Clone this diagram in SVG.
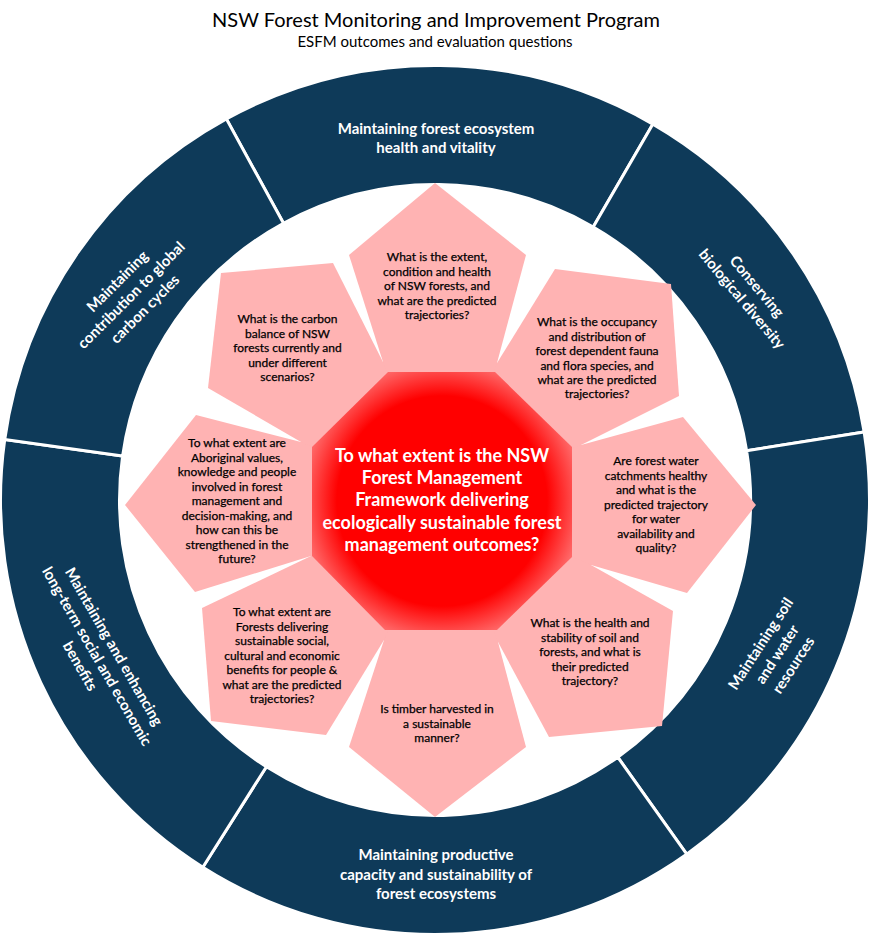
<svg xmlns="http://www.w3.org/2000/svg" width="870" height="936" viewBox="0 0 870 936">
<style>
.seg{fill:#0e3a59;stroke:#ffffff;stroke-width:3;stroke-linejoin:miter}
.sl{font-family:Lato,"Liberation Sans",sans-serif;font-weight:700;font-size:15px;fill:#ffffff;text-anchor:middle}
.pent{fill:#ffb3b3}
.q{font-family:Lato,"Liberation Sans",sans-serif;font-size:12px;fill:#000000;stroke:#000000;stroke-width:0.25;text-anchor:middle}
.ctr{font-family:Lato,"Liberation Sans",sans-serif;font-weight:700;font-size:18px;fill:#ffffff;text-anchor:middle}
.ttl{font-family:Lato,"Liberation Sans",sans-serif;fill:#000000;text-anchor:middle}
</style>
<defs>
<radialGradient id="octGrad" gradientUnits="userSpaceOnUse" cx="442" cy="501" r="146">
<stop offset="0" stop-color="#ff0000"/>
<stop offset="0.72" stop-color="#ff0000"/>
<stop offset="1" stop-color="#ff7a7a"/>
</radialGradient>
</defs>
<rect width="870" height="936" fill="#ffffff"/>
<g id="title">
<text class="ttl" x="436" y="27" font-size="20">NSW Forest Monitoring and Improvement Program</text>
<text class="ttl" x="435" y="47" font-size="15">ESFM outcomes and evaluation questions</text>
</g>
<g id="ring">
<g id="seg-health">
<path class="seg" d="M226.34,118.88 A434.5,434.5 0 0 1 652.91,124.09 L593.23,227.05 A315.5,315.5 0 0 0 283.49,223.26 Z"/>
<text class="sl" x="436" y="134">Maintaining forest ecosystem</text>
<text class="sl" x="436" y="153">health and vitality</text>
</g>
<g id="seg-biodiversity">
<path class="seg" d="M652.91,124.09 A434.5,434.5 0 0 1 864.15,432.03 L746.62,450.65 A315.5,315.5 0 0 0 593.23,227.05 Z"/>
<g transform="translate(748.5,293.5) rotate(50)">
<text class="sl" x="0" y="-5.75">Conserving</text>
<text class="sl" x="0" y="13.75">biological diversity</text>
</g>
</g>
<g id="seg-soil">
<path class="seg" d="M864.15,432.03 A434.5,434.5 0 0 1 686.70,854.17 L617.76,757.17 A315.5,315.5 0 0 0 746.62,450.65 Z"/>
<g transform="translate(778,655) rotate(-57)">
<text class="sl" x="0" y="-15.5">Maintaining soil</text>
<text class="sl" x="0" y="4">and water</text>
<text class="sl" x="0" y="23.5">resources</text>
</g>
</g>
<g id="seg-productive">
<path class="seg" d="M686.70,854.17 A434.5,434.5 0 0 1 202.82,867.27 L266.41,766.68 A315.5,315.5 0 0 0 617.76,757.17 Z"/>
<text class="sl" x="436" y="860">Maintaining productive</text>
<text class="sl" x="436" y="879.5">capacity and sustainability of</text>
<text class="sl" x="436" y="899">forest ecosystems</text>
</g>
<g id="seg-social">
<path class="seg" d="M202.82,867.27 A434.5,434.5 0 0 1 4.73,439.53 L122.57,456.09 A315.5,315.5 0 0 0 266.41,766.68 Z"/>
<g transform="translate(96,657) rotate(60)">
<text class="sl" x="0" y="-15.5">Maintaining and enhancing</text>
<text class="sl" x="0" y="4">long-term social and economic</text>
<text class="sl" x="0" y="23.5">benefits</text>
</g>
</g>
<g id="seg-carbon">
<path class="seg" d="M4.73,439.53 A434.5,434.5 0 0 1 226.34,118.88 L283.49,223.26 A315.5,315.5 0 0 0 122.57,456.09 Z"/>
<g transform="translate(132,296) rotate(-45)">
<text class="sl" x="0" y="-15.5">Maintaining</text>
<text class="sl" x="0" y="4">contribution to global</text>
<text class="sl" x="0" y="23.5">carbon cycles</text>
</g>
</g>
</g>
<g id="questions">
<polygon class="pent" points="383,362 497,363 581,445 591,565 498,642 384,640 311,556 301,442"/>
<g id="q-health">
<polygon class="pent" points="383,362 349,255 435,183 526,255 497,363 442,501"/>
<text class="q" x="437" y="261">What is the extent,</text>
<text class="q" x="437" y="275.5">condition and health</text>
<text class="q" x="437" y="290">of NSW forests, and</text>
<text class="q" x="437" y="304.5">what are the predicted</text>
<text class="q" x="437" y="319">trajectories?</text>
</g>
<g id="q-biodiversity">
<polygon class="pent" points="497,363 555,269 671,284 679,396 581,445 442,501"/>
<text class="q" x="597" y="326">What is the occupancy</text>
<text class="q" x="597" y="340.5">and distribution of</text>
<text class="q" x="597" y="355">forest dependent fauna</text>
<text class="q" x="597" y="369.5">and flora species, and</text>
<text class="q" x="597" y="384">what are the predicted</text>
<text class="q" x="597" y="398">trajectories?</text>
</g>
<g id="q-water">
<polygon class="pent" points="581,445 683,417 756,505 687,593 591,565 442,501"/>
<text class="q" x="656" y="465">Are forest water</text>
<text class="q" x="656" y="479.5">catchments healthy</text>
<text class="q" x="656" y="494">and what is the</text>
<text class="q" x="656" y="508.5">predicted trajectory</text>
<text class="q" x="656" y="523">for water</text>
<text class="q" x="656" y="537.5">availability and</text>
<text class="q" x="656" y="552">quality?</text>
</g>
<g id="q-soil">
<polygon class="pent" points="591,565 673,611 662,726 549,737 498,642 442,501"/>
<text class="q" x="590" y="627">What is the health and</text>
<text class="q" x="590" y="641.5">stability of soil and</text>
<text class="q" x="590" y="656">forests, and what is</text>
<text class="q" x="590" y="670.5">their predicted</text>
<text class="q" x="590" y="685">trajectory?</text>
</g>
<g id="q-timber">
<polygon class="pent" points="498,642 526,747 435,817 349,747 384,640 442,501"/>
<text class="q" x="437" y="713">Is timber harvested in</text>
<text class="q" x="437" y="727.5">a sustainable</text>
<text class="q" x="437" y="742">manner?</text>
</g>
<g id="q-social">
<polygon class="pent" points="384,640 326,735 211,721 202,608 311,556 442,501"/>
<text class="q" x="282" y="616">To what extent are</text>
<text class="q" x="282" y="630.5">Forests delivering</text>
<text class="q" x="282" y="645">sustainable social,</text>
<text class="q" x="282" y="659.5">cultural and economic</text>
<text class="q" x="282" y="674">benefits for people &amp;</text>
<text class="q" x="282" y="688.5">what are the predicted</text>
<text class="q" x="282" y="703">trajectories?</text>
</g>
<g id="q-aboriginal">
<polygon class="pent" points="311,556 195,592 125,505 196,415 301,442 442,501"/>
<text class="q" x="237" y="447">To what extent are</text>
<text class="q" x="237" y="461.5">Aboriginal values,</text>
<text class="q" x="237" y="476">knowledge and people</text>
<text class="q" x="237" y="490.5">involved in forest</text>
<text class="q" x="237" y="505">management and</text>
<text class="q" x="237" y="519.5">decision-making, and</text>
<text class="q" x="237" y="534">how can this be</text>
<text class="q" x="237" y="548.5">strengthened in the</text>
<text class="q" x="237" y="563">future?</text>
</g>
<g id="q-carbon">
<polygon class="pent" points="301,442 208,388 221,273 333,263 383,362 442,501"/>
<text class="q" x="287.5" y="323">What is the carbon</text>
<text class="q" x="287.5" y="337.5">balance of NSW</text>
<text class="q" x="287.5" y="352">forests currently and</text>
<text class="q" x="287.5" y="366.5">under different</text>
<text class="q" x="287.5" y="381">scenarios?</text>
</g>
</g>
<g id="centre">
<polygon points="388,372 495,372 572,447 572,557 497,630 385,630 312,556 312,447" fill="url(#octGrad)"/>
<text class="ctr" x="442" y="462">To what extent is the NSW</text>
<text class="ctr" x="442" y="484">Forest Management</text>
<text class="ctr" x="442" y="506">Framework delivering</text>
<text class="ctr" x="442" y="528.5">ecologically sustainable forest</text>
<text class="ctr" x="442" y="551">management outcomes?</text>
</g>
</svg>
